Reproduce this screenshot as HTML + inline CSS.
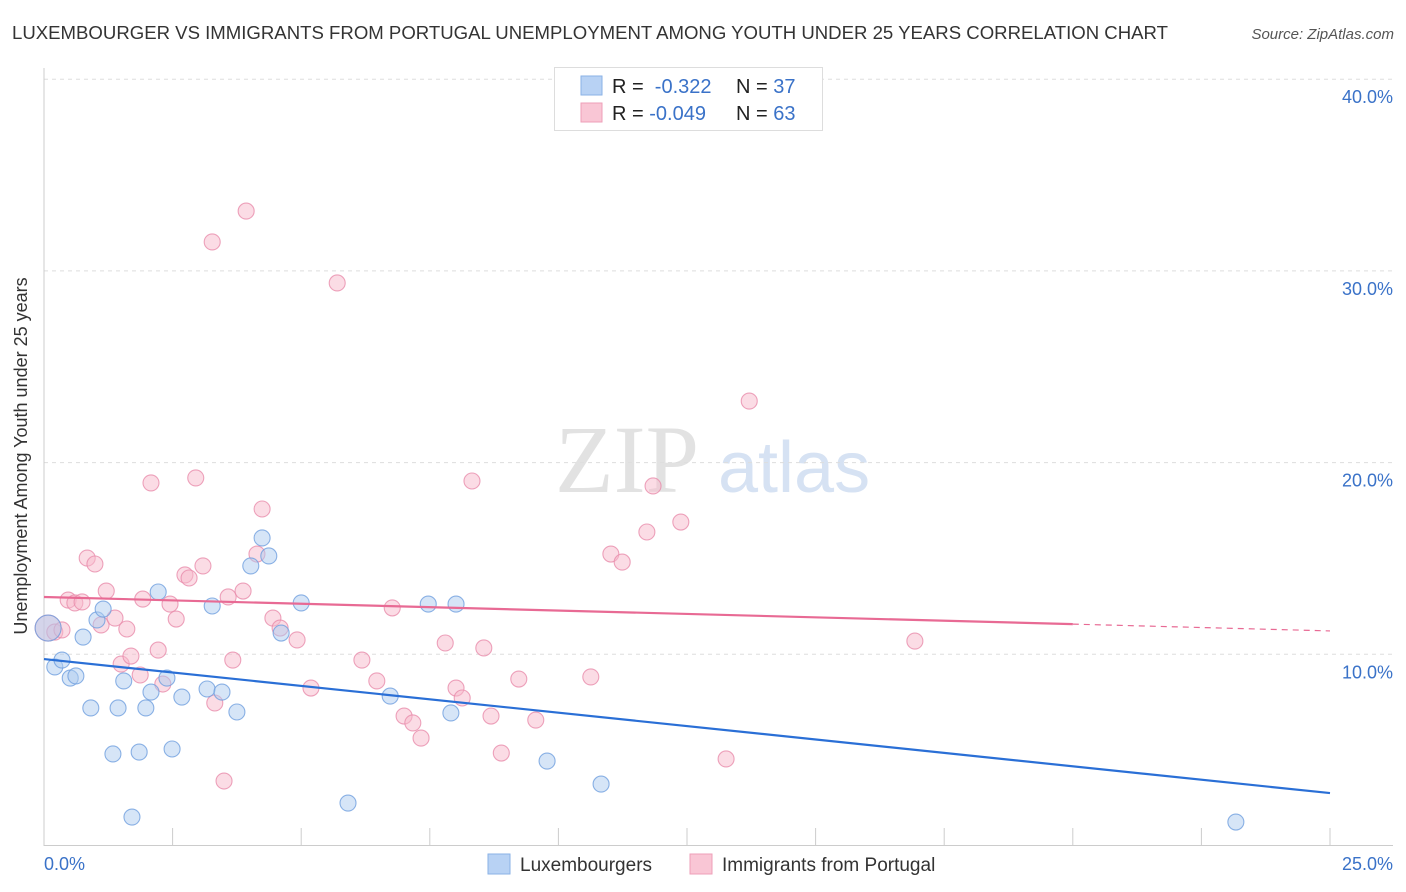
<!DOCTYPE html>
<html><head><meta charset="utf-8"><style>
body{margin:0;background:#fff;font-family:"Liberation Sans",sans-serif}
svg{display:block}
</style></head><body>
<svg id="c" width="1406" height="892">
<text x="12" y="39" font-size="18" fill="#333" textLength="1156" lengthAdjust="spacingAndGlyphs">LUXEMBOURGER VS IMMIGRANTS FROM PORTUGAL UNEMPLOYMENT AMONG YOUTH UNDER 25 YEARS CORRELATION CHART</text>
<text x="1394" y="39" font-size="15" fill="#555" font-style="italic" text-anchor="end">Source: ZipAtlas.com</text>
<text x="27" y="456" font-size="18" fill="#333" text-anchor="middle" transform="rotate(-90 27 456)">Unemployment Among Youth under 25 years</text>
<text x="555" y="492" font-size="96" fill="#e2e2e2" font-family="Liberation Serif,serif">ZIP</text>
<text x="718" y="492" font-size="72" fill="#d6e2f3">atlas</text>
<g id="grid"></g><g id="axes"></g><g id="pts"></g><g id="lines"></g>
<g>
<rect x="554.5" y="67.5" width="268" height="63" fill="#fff" stroke="#ddd"/>
<rect x="581" y="76" width="21" height="19" fill="#b8d2f4" stroke="#8ab2e6"/>
<rect x="581" y="103" width="21" height="19" fill="#f9c6d5" stroke="#ee9fb8"/>
<text x="612" y="93" font-size="20" fill="#222">R = <tspan fill="#3a72c8">&#160;-0.322</tspan></text>
<text x="736" y="93" font-size="20" fill="#222">N = <tspan fill="#3a72c8">37</tspan></text>
<text x="612" y="120" font-size="20" fill="#222">R = <tspan fill="#3a72c8">-0.049</tspan></text>
<text x="736" y="120" font-size="20" fill="#222">N = <tspan fill="#3a72c8">63</tspan></text>
</g>
<g>
<rect x="488" y="854" width="22" height="20" fill="#b8d2f4" stroke="#8ab2e6"/>
<text x="520" y="871" font-size="19" fill="#333">Luxembourgers</text>
<rect x="690" y="854" width="22" height="20" fill="#f9c6d5" stroke="#ee9fb8"/>
<text x="722" y="871" font-size="19" fill="#333">Immigrants from Portugal</text>
</g>
</svg>
<script>
const luxX=[0.08,0.21,0.35,0.51,0.62,0.76,0.91,1.03,1.15,1.34,1.44,1.55,1.71,1.85,1.98,2.08,2.22,2.39,2.49,2.68,3.17,3.27,3.46,3.75,4.02,4.24,4.37,4.61,5.00,5.91,6.73,7.47,7.91,8.01,9.78,10.83,23.17];
const luxY=[11.37,9.34,9.70,8.76,8.87,10.90,7.20,11.79,12.36,4.80,7.20,8.61,1.51,4.90,7.20,8.03,13.25,8.76,5.06,7.77,8.19,12.52,8.03,6.99,14.61,16.07,15.13,11.11,12.68,2.24,7.82,12.62,6.94,12.62,4.43,3.23,1.25];
const porX=[0.08,0.21,0.35,0.47,0.60,0.74,0.84,0.99,1.11,1.21,1.38,1.50,1.61,1.69,1.87,1.92,2.08,2.22,2.31,2.45,2.57,2.74,2.82,2.95,3.09,3.27,3.32,3.50,3.58,3.67,3.87,3.93,4.14,4.24,4.45,4.59,4.92,5.19,5.70,6.18,6.47,6.77,7.00,7.17,7.33,7.80,8.01,8.13,8.32,8.55,8.69,8.89,9.23,9.56,10.63,11.02,11.24,11.72,11.84,12.38,13.26,13.71,16.93];
const porY=[11.37,11.16,11.27,12.83,12.68,12.73,15.02,14.71,11.53,13.30,11.89,9.49,11.32,9.91,8.92,12.88,18.94,10.22,8.45,12.62,11.84,14.14,13.98,19.20,14.61,31.51,7.46,3.39,12.99,9.70,13.30,33.12,15.23,17.58,11.89,11.37,10.75,8.24,29.37,9.70,8.61,12.42,6.78,6.42,5.63,10.59,8.24,7.72,19.04,10.33,6.78,4.85,8.71,6.57,8.82,15.23,14.81,16.38,18.78,16.90,4.54,23.21,10.69];
const yTicks=[10,20,30,40];
const xTickVals=[0,2.5,5,7.5,10,12.5,15,17.5,20,22.5,25];
const luxTrend=[9.75,2.76];
const porTrend=[12.99,11.22];
const NS="http://www.w3.org/2000/svg";
const X=v=>44+v*51.44, Y=v=>846-v*19.17;
function mk(t,a,p){const e=document.createElementNS(NS,t);for(const k in a)e.setAttribute(k,a[k]);document.getElementById(p).appendChild(e);return e;}
yTicks.forEach(t=>{
 const l=mk('line',{x1:44,x2:1393,y1:Y(t),y2:Y(t),stroke:'#ddd','stroke-dasharray':'4 4'},'grid');
 
 
 const s=mk('text',{x:1393,y:Y(t)+24,'font-size':18,fill:'#3a72c8','text-anchor':'end'},'grid');s.textContent=t.toFixed(1)+'%';
 
 
});
mk('line',{x1:44,x2:44,y1:68,y2:846,stroke:'#ccc'},'axes');
mk('line',{x1:44,x2:1393,y1:845.5,y2:845.5,stroke:'#ccc'},'axes');
xTickVals.forEach(t=>{const l=mk('line',{x1:X(t),x2:X(t),y1:828,y2:846,stroke:'#ccc'},'axes');
 
 });
let a=mk('text',{x:44,y:870,'font-size':18,fill:'#3a72c8'},'axes');a.textContent='0.0%';


a=mk('text',{x:1393,y:870,'font-size':18,fill:'#3a72c8','text-anchor':'end'},'axes');a.textContent='25.0%';


function pts(xs,ys,f,s,n){xs.forEach((x,i)=>{const c=mk('circle',{cx:X(x),cy:Y(ys[i]),r:i==0?13:8,fill:f,'fill-opacity':0.5,stroke:s,'stroke-opacity':0.8,'stroke-width':1.1},'pts');
 
 });}
pts(porX,porY,'#f7b9cc','#e98cab','point-portugal');
pts(luxX,luxY,'#aecbf0','#6f9fde','point-luxembourger');
let t=mk('line',{x1:X(0),y1:Y(luxTrend[0]),x2:X(25),y2:Y(luxTrend[1]),stroke:'#2a6fd6','stroke-width':2.2},'lines');


const py=x=>porTrend[0]+(porTrend[1]-porTrend[0])*x/25;
t=mk('line',{x1:X(0),y1:Y(py(0)),x2:X(20),y2:Y(py(20)),stroke:'#e86a94','stroke-width':2.2},'lines');


t=mk('line',{x1:X(20),y1:Y(py(20)),x2:X(25),y2:Y(py(25)),stroke:'#e86a94','stroke-width':1.2,'stroke-dasharray':'6 5'},'lines');


</script>
</body></html>
